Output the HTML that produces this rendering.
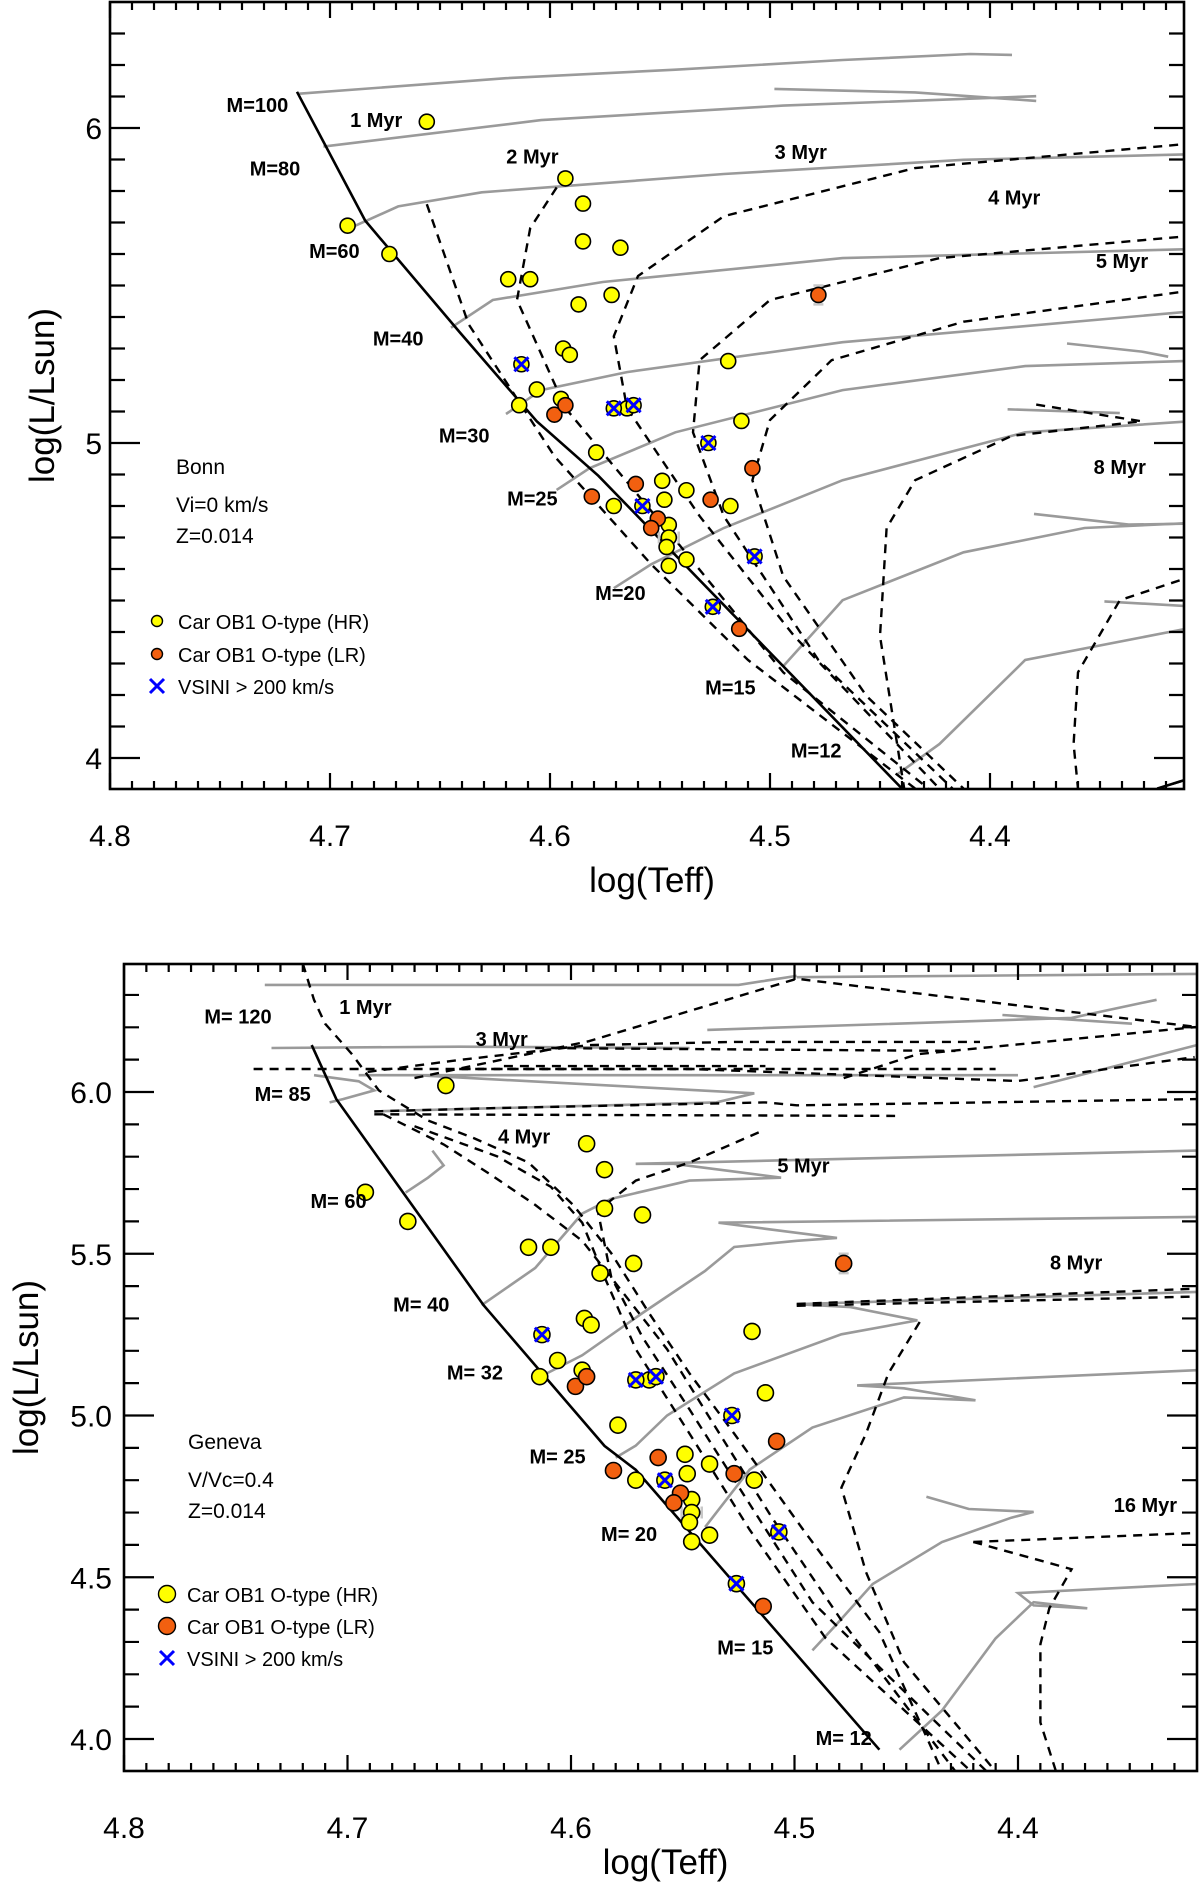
<!DOCTYPE html>
<html><head><meta charset="utf-8">
<style>
html,body{margin:0;padding:0;background:#fff;}
svg{display:block;}
text{font-family:"Liberation Sans",sans-serif;fill:#000;}
.lbl{font-family:"Liberation Sans Narrow","Liberation Sans",sans-serif;font-weight:bold;font-size:20px;}
.tick{font-size:30px;}
.title{font-size:35px;}
.note{font-family:"Liberation Sans Narrow","Liberation Sans",sans-serif;font-size:21px;}
</style></head>
<body>
<svg id="fig" width="1200" height="1884" viewBox="0 0 1200 1884" xmlns="http://www.w3.org/2000/svg">
<defs>
<clipPath id="clipTop"><rect x="110" y="2" width="1074" height="787"/></clipPath>
<clipPath id="clipBot"><rect x="124" y="964" width="1073" height="807"/></clipPath>
</defs>
</svg>
<script>
// ---------- star data (same stars in both panels) ----------
const starTeff = [4.656,4.692,4.673,4.593,4.585,4.585,4.568,4.619,4.609,4.587,4.572,4.594,4.591,4.519,4.606,4.614,4.595,4.565,4.513,4.579,4.549,4.538,4.548,4.571,4.518,4.546,4.546,4.547,4.538,4.546,
  4.613,4.571,4.562,4.528,4.558,4.507,4.526,
  4.478,4.598,4.593,4.561,4.581,4.527,4.508,4.551,4.554,4.514];
const starLum = [6.02,5.69,5.60,5.84,5.76,5.64,5.62,5.52,5.52,5.44,5.47,5.30,5.28,5.26,5.17,5.12,5.14,5.11,5.07,4.97,4.88,4.85,4.82,4.80,4.80,4.74,4.70,4.67,4.63,4.61,
  5.25,5.11,5.12,5.00,4.80,4.64,4.48,
  5.47,5.09,5.12,4.87,4.83,4.82,4.92,4.76,4.73,4.41];
const starXerr = [0.012,0.018,0.012,0.013,0.013,0.005,0.004,0.005,0.012,0.005,0.006,0.005,0.008,0.007,0.006,0.006,0.006,0.010,0.013,0.008,0.008,0.008,0.006,0.010,0.008,0.006,0.045,0.006,0.006,0.008,
  0.006,0.006,0.006,0.004,0.006,0.010,0.006,
  0.015,0.000,0.000,0.008,0.012,0.006,0.008,0.006,0.006,0.010];
const starYerr = [0.01,0.01,0.02,0.02,0.02,0.01,0.0,0.01,0.01,0.0,0.01,0.0,0.0,0.0,0.0,0.0,0.0,0.0,0.0,0.0,0.0,0.0,0.0,0.0,0.0,0.0,0.0,0.0,0.0,0.0,
  0.0,0.0,0.0,0.0,0.0,0.0,0.0,
  0.03,0.0,0.0,0.0,0.0,0.0,0.0,0.0,0.0,0.0];
const starType = ["HR","HR","HR","HR","HR","HR","HR","HR","HR","HR","HR","HR","HR","HR","HR","HR","HR","HR","HR","HR","HR","HR","HR","HR","HR","HR","HR","HR","HR","HR",
  "HR","HR","HR","HR","HR","HR","HR",
  "LR","LR","LR","LR","LR","LR","LR","LR","LR","LR"];
const starFast = [0,0,0,0,0,0,0,0,0,0,0,0,0,0,0,0,0,0,0,0,0,0,0,0,0,0,0,0,0,0,
  1,1,1,1,1,1,1,
  0,0,0,0,0,0,0,0,0,0];

// ---------- Bonn panel tracks (logTeff, logL) ----------
const bonnZams = [[4.715,6.115],[4.684,5.706],[4.641,5.351],[4.606,5.069],[4.578,4.896],[4.440,3.903]];
const bonnTracks = [
 [[4.714,6.109],[4.620,6.158],[4.543,6.185],[4.467,6.216],[4.409,6.235],[4.390,6.232]],
 [[4.498,6.124],[4.434,6.113],[4.379,6.086]],
 [[4.703,5.941],[4.604,6.025],[4.494,6.071],[4.379,6.101]],
 [[4.691,5.682],[4.669,5.751],[4.631,5.796],[4.521,5.854],[4.412,5.899],[4.300,5.918]],
 [[4.645,5.366],[4.626,5.454],[4.576,5.511],[4.467,5.587],[4.300,5.617]],
 [[4.620,5.092],[4.604,5.168],[4.565,5.225],[4.467,5.320],[4.300,5.423]],
 [[4.597,4.851],[4.582,4.920],[4.543,5.034],[4.467,5.168],[4.384,5.244],[4.300,5.263]],
 [[4.571,4.539],[4.554,4.615],[4.521,4.730],[4.467,4.882],[4.384,5.034],[4.300,5.073]],
 [[4.494,4.291],[4.467,4.501],[4.412,4.653],[4.357,4.730],[4.300,4.749]],
 [[4.442,3.949],[4.423,4.044],[4.384,4.311],[4.300,4.425]]
];
const bonnHooks = [
 [[4.365,5.316],[4.331,5.290],[4.319,5.274]],
 [[4.392,5.107],[4.341,5.095]],
 [[4.380,4.775],[4.337,4.741],[4.300,4.745]],
 [[4.348,4.497],[4.300,4.478]]
];
const bonnIso = [
 [[4.656,5.758],[4.637,5.377],[4.598,4.958],[4.554,4.615],[4.510,4.311],[4.434,3.903]],
 [[4.593,5.854],[4.609,5.682],[4.615,5.454],[4.593,5.111],[4.543,4.692],[4.494,4.272],[4.428,3.903]],
 [[4.300,5.956],[4.434,5.873],[4.521,5.720],[4.560,5.530],[4.571,5.339],[4.565,5.111],[4.532,4.768],[4.489,4.387],[4.423,3.903]],
 [[4.300,5.663],[4.423,5.587],[4.500,5.454],[4.532,5.263],[4.535,5.034],[4.521,4.768],[4.478,4.311],[4.417,3.903]],
 [[4.300,5.492],[4.412,5.385],[4.472,5.263],[4.500,5.073],[4.508,4.882],[4.494,4.577],[4.456,4.196],[4.412,3.903]],
 [[4.379,5.122],[4.331,5.069],[4.390,5.023],[4.434,4.882],[4.447,4.730],[4.450,4.387],[4.439,3.903]],
 [[4.300,4.596],[4.341,4.501],[4.360,4.272],[4.362,4.044],[4.360,3.903]]
];
const bonnExtra = [[[4.324,3.903],[4.300,3.955]]];
const bonnLabels = ["M=100","1 Myr","M=80","2 Myr","3 Myr","4 Myr","M=60","5 Myr","M=40","M=30","8 Myr","M=25","M=20","M=15","M=12"];
const bonnLabelT = [4.733,4.679,4.725,4.608,4.486,4.389,4.698,4.340,4.669,4.639,4.341,4.608,4.568,4.518,4.479];
const bonnLabelL = [6.07,6.022,5.869,5.906,5.92,5.776,5.606,5.574,5.329,5.021,4.92,4.82,4.52,4.22,4.02];

// ---------- Geneva panel tracks (logTeff, logL) ----------
const genZams = [[4.716,6.145],[4.705,5.978],[4.639,5.340],[4.585,4.906],[4.571,4.832],[4.462,3.967]];
const genTracks = [
 [[4.737,6.331],[4.525,6.331],[4.499,6.359],[4.513,6.344]],
 [[4.499,6.355],[4.320,6.365]],
 [[4.539,6.192],[4.376,6.229],[4.338,6.285]],
 [[4.407,6.238],[4.349,6.211]],
 [[4.734,6.136],[4.650,6.140],[4.547,6.136]],
 [[4.695,6.052],[4.400,6.052]],
 [[4.393,6.015],[4.320,6.145]],
 [[4.669,6.052],[4.518,5.996],[4.535,5.968],[4.688,5.940]],
 [[4.715,6.052],[4.695,6.033],[4.688,6.005],[4.702,5.978],[4.708,5.968]],
 [[4.674,5.689],[4.664,5.735],[4.657,5.773],[4.662,5.819]],
 [[4.640,5.341],[4.616,5.456],[4.595,5.624],[4.582,5.670],[4.547,5.726],[4.506,5.735],[4.527,5.754],[4.554,5.778],[4.571,5.778]],
 [[4.571,5.778],[4.320,5.819]],
 [[4.614,5.119],[4.595,5.186],[4.568,5.317],[4.540,5.447],[4.527,5.521],[4.499,5.540],[4.481,5.549],[4.513,5.577],[4.534,5.596],[4.320,5.614]],
 [[4.580,4.870],[4.571,4.907],[4.557,5.000],[4.527,5.130],[4.479,5.251],[4.445,5.294],[4.475,5.335],[4.499,5.344],[4.320,5.382]],
 [[4.540,4.655],[4.520,4.833],[4.492,4.963],[4.451,5.056],[4.419,5.047],[4.451,5.084],[4.472,5.093],[4.320,5.140]],
 [[4.492,4.274],[4.482,4.348],[4.465,4.479],[4.434,4.609],[4.403,4.684],[4.393,4.702],[4.422,4.711],[4.441,4.749]],
 [[4.453,3.967],[4.434,4.088],[4.410,4.311],[4.393,4.423],[4.369,4.404],[4.393,4.413],[4.400,4.451],[4.320,4.479]]
];
const genIso = [
 [[4.720,6.397],[4.715,6.285],[4.710,6.211],[4.698,6.117],[4.686,6.005],[4.664,5.912],[4.643,5.856],[4.619,5.782],[4.599,5.651],[4.582,5.502],[4.565,5.316],[4.547,5.130],[4.527,4.944],[4.496,4.646],[4.462,4.330],[4.434,3.900]],
 [[4.684,5.931],[4.657,5.838],[4.636,5.745],[4.616,5.651],[4.595,5.540],[4.578,5.391],[4.557,5.205],[4.537,4.982],[4.510,4.683],[4.479,4.367],[4.428,3.900]],
 [[4.670,5.894],[4.633,5.801],[4.609,5.707],[4.595,5.596],[4.585,5.428],[4.571,5.205],[4.547,4.944],[4.520,4.646],[4.486,4.311],[4.421,3.900]],
 [[4.516,5.875],[4.547,5.782],[4.571,5.726],[4.588,5.633],[4.582,5.428],[4.568,5.242],[4.547,5.019],[4.523,4.758],[4.492,4.423],[4.414,3.900]],
 [[4.444,5.289],[4.458,5.130],[4.468,4.944],[4.479,4.777],[4.468,4.516],[4.451,4.237],[4.410,3.900]],
 [[4.499,5.345],[4.320,5.392]],
 [[4.499,5.339],[4.320,5.368]],
 [[4.420,4.609],[4.376,4.525],[4.386,4.404],[4.390,4.293],[4.390,4.051],[4.383,3.900]],
 [[4.420,4.609],[4.320,4.637]],
 [[4.691,6.062],[4.650,6.099],[4.592,6.145],[4.527,6.155],[4.417,6.155]],
 [[4.650,6.071],[4.547,6.071],[4.400,6.034],[4.321,6.108]],
 [[4.688,5.940],[4.636,5.950],[4.513,5.968],[4.499,5.959],[4.320,5.978]],
 [[4.670,6.043],[4.592,6.157],[4.499,6.350],[4.320,6.201]],
 [[4.616,6.136],[4.428,6.127]],
 [[4.630,6.080],[4.513,6.080]],
 [[4.742,6.071],[4.410,6.071]],
 [[4.478,6.043],[4.445,6.117],[4.320,6.201]],
 [[4.688,5.931],[4.455,5.926]]
];
const genLabels = ["M= 120","1 Myr","3 Myr","M= 85","4 Myr","5 Myr","M= 60","8 Myr","M= 40","M= 32","M= 25","16 Myr","M= 20","M= 15","M= 12"];
const genLabelT = [4.749,4.692,4.631,4.729,4.621,4.496,4.704,4.374,4.667,4.643,4.606,4.343,4.574,4.522,4.478];
const genLabelL = [6.23,6.26,6.16,5.99,5.86,5.77,5.66,5.47,5.34,5.13,4.87,4.72,4.63,4.28,4.00];

// ---------- axes ----------
const NS='http://www.w3.org/2000/svg';
const svg=document.getElementById('fig');
function mk(tag,attrs,parent){const e=document.createElementNS(NS,tag);for(const k in attrs)e.setAttribute(k,attrs[k]);(parent||svg).appendChild(e);return e;}
const panels=[
 {id:'bonn',x0:110,x1:1184,y0:2,y1:789,tx:(t)=>110+(4.8-t)*2200,ty:(l)=>758-(l-4)*315,clip:'clipTop',
  zams:bonnZams,tracks:bonnTracks.concat(bonnHooks),iso:bonnIso,extra:bonnExtra,labels:bonnLabels,lT:bonnLabelT,lL:bonnLabelL,
  yMajor:[4,5,6],yFmt:(v)=>v.toFixed(0),r:7.5,labX:102,xLabY:846,xTitleY:892,yTitleX:54,
  notes:["Bonn","Vi=0 km/s","Z=0.014"],noteX:176,noteY:[474,512,543],legY:[621,654,686],legR:5.5,legX:157,legTextX:178},
 {id:'geneva',x0:124,x1:1197,y0:964,y1:1771,tx:(t)=>124+(4.8-t)*2235,ty:(l)=>1739-(l-4)*323.5,clip:'clipBot',
  zams:genZams,tracks:genTracks,iso:genIso,extra:[],labels:genLabels,lT:genLabelT,lL:genLabelL,
  yMajor:[4.0,4.5,5.0,5.5,6.0],yFmt:(v)=>v.toFixed(1),r:8,labX:112,xLabY:1838,xTitleY:1874,yTitleX:38,
  notes:["Geneva","V/Vc=0.4","Z=0.014"],noteX:188,noteY:[1449,1487,1518],legY:[1594,1626,1658],legR:8.5,legX:167,legTextX:187}
];
function pathOf(p,pts){return pts.map((q,i)=>(i?'L':'M')+p.tx(q[0]).toFixed(1)+' '+p.ty(q[1]).toFixed(1)).join(' ');}

panels.forEach(p=>{
  const g=mk('g',{});
  
  
  const pl=mk('g',{'clip-path':'url(#'+p.clip+')'},g);
  
  
  p.tracks.forEach((tr,i)=>{
    const e=mk('path',{d:pathOf(p,tr),fill:'none',stroke:'#9a9a9a','stroke-width':2.6},pl);
    
    
  });
  p.iso.concat(p.extra).forEach((tr,i)=>{
    const e=mk('path',{d:pathOf(p,tr),fill:'none',stroke:'#000','stroke-width':2.4,'stroke-dasharray':'9 7'},pl);
    
    
  });
  p.extra.forEach(tr=>{
    const e=mk('path',{d:pathOf(p,tr),fill:'none',stroke:'#000','stroke-width':2.6},pl);
    
    
  });
  const z=mk('path',{d:pathOf(p,p.zams),fill:'none',stroke:'#000','stroke-width':2.6},pl);
  
  
  for(let i=0;i<starTeff.length;i++){
    const x=p.tx(starTeff[i]),y=p.ty(starLum[i]);
    const dx=starXerr[i]*(p.tx(4.7)-p.tx(4.8));
    const dy=starYerr[i]*(p.ty(4)-p.ty(5));
    if(dx>0){
      const e=mk('path',{d:`M${x-dx} ${y}H${x+dx}M${x-dx} ${y-6}V${y+6}M${x+dx} ${y-6}V${y+6}`,stroke:'#c8c8c8','stroke-width':2.5,fill:'none'},pl);
      
      
    }
    if(dy>0){
      const e=mk('path',{d:`M${x} ${y-dy}V${y+dy}M${x-5} ${y-dy}H${x+5}M${x-5} ${y+dy}H${x+5}`,stroke:'#c8c8c8','stroke-width':2.5,fill:'none'},pl);
      
      
    }
  }
  for(let i=0;i<starTeff.length;i++){
    const x=p.tx(starTeff[i]),y=p.ty(starLum[i]);
    const c=mk('circle',{cx:x,cy:y,r:p.r,fill:starType[i]==='HR'?'#ffff00':'#f26010',stroke:'#000','stroke-width':1.6},pl);
    
    
    if(starFast[i]){
      const s=7;
      const xm=mk('path',{d:`M${x-s} ${y-s}L${x+s} ${y+s}M${x+s} ${y-s}L${x-s} ${y+s}`,stroke:'#0000ff','stroke-width':3},pl);
      
      
    }
  }
  p.labels.forEach((t,i)=>{
    const e=mk('text',{x:p.tx(p.lT[i]),y:p.ty(p.lL[i])+6,'text-anchor':'middle',class:'lbl'},g);
    e.textContent=t;
    
    
  });
  p.notes.forEach((t,i)=>{
    const e=mk('text',{x:p.noteX,y:p.noteY[i],class:'note'},g);
    e.textContent=t;
    
    
  });
  const leg=mk('g',{},g);
  
  
  const legTxt=["Car OB1 O-type (HR)","Car OB1 O-type (LR)","VSINI > 200 km/s"];
  legTxt.forEach((t,i)=>{
    const y=p.legY[i];
    if(i<2){
      const c=mk('circle',{cx:p.legX,cy:y,r:p.legR,fill:i===0?'#ffff00':'#f26010',stroke:'#000','stroke-width':1.4},leg);
      
      
    } else {
      const s=7;
      const xm=mk('path',{d:`M${p.legX-s} ${y-s}L${p.legX+s} ${y+s}M${p.legX+s} ${y-s}L${p.legX-s} ${y+s}`,stroke:'#0000ff','stroke-width':3},leg);
      
      
    }
    const e=mk('text',{x:p.legTextX,y:y+8,class:'note',style:'font-size:20px'},leg);
    e.textContent=t;
    
    
  });
  const fr=mk('rect',{x:p.x0,y:p.y0,width:p.x1-p.x0,height:p.y1-p.y0,fill:'none',stroke:'#000','stroke-width':2.6},g);
  
  
  let d='';
  for(let k=0;k<=50;k++){
    const t=4.8-k*0.01; const x=p.tx(t); if(x>p.x1-1)break;
    const L=(k%10===0)?16:8;
    d+=`M${x} ${p.y1}V${p.y1-L}M${x} ${p.y0}V${p.y0+L}`;
  }
  for(let k=0;k<=30;k++){
    const v=3.9+k*0.1; const y=p.ty(v); if(y<p.y0+1||y>p.y1-1)continue;
    const major=p.yMajor.some(m=>Math.abs(m-v)<1e-6);
    const L=major?30:15;
    d+=`M${p.x0} ${y}H${p.x0+L}M${p.x1} ${y}H${p.x1-L}`;
  }
  const tk=mk('path',{d:d,stroke:'#000','stroke-width':2.2,fill:'none'},g);
  
  
  [4.8,4.7,4.6,4.5,4.4].forEach(t=>{
    const e=mk('text',{x:p.tx(t),y:p.xLabY,'text-anchor':'middle',class:'tick'},g);
    e.textContent=t.toFixed(1);
    
    
  });
  p.yMajor.forEach(v=>{
    const e=mk('text',{x:p.labX,y:p.ty(v)+11,'text-anchor':'end',class:'tick'},g);
    e.textContent=p.yFmt(v);
    
    
  });
  const xt=mk('text',{x:(p.x0+p.x1)/2+5,y:p.xTitleY,'text-anchor':'middle',class:'title'},g);
  xt.textContent='log(Teff)';
  
  
  const yc=(p.y0+p.y1)/2;
  const yt=mk('text',{x:p.yTitleX,y:yc,'text-anchor':'middle',class:'title',transform:`rotate(-90 ${p.yTitleX} ${yc})`},g);
  yt.textContent='log(L/Lsun)';
  
  
});
</script>
</body></html>
